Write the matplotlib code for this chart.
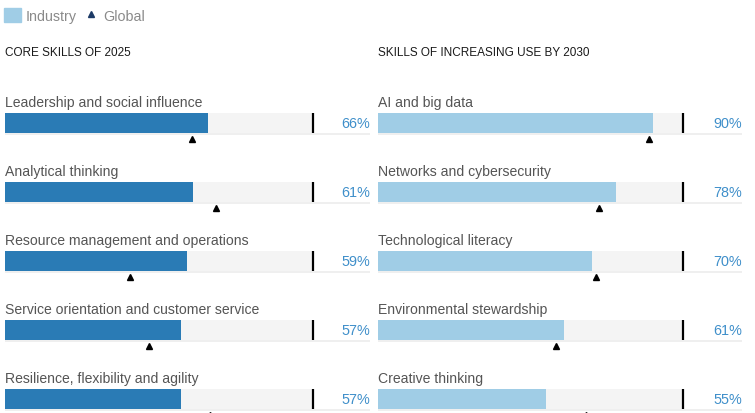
import matplotlib.pyplot as plt
from matplotlib.patches import Patch
from matplotlib.lines import Line2D

# datos
core_skills = ['Leadership and social influence', 'Analytical thinking',
               'Resource management and operations',
               'Service orientation and customer service',
               'Resilience, flexibility and agility']
core_industry = [66, 61, 59, 57, 57]
core_global = [60.7, 68.5, 40.6, 46.8, 66.5]

growth_skills = ['AI and big data', 'Networks and cybersecurity',
                 'Technological literacy', 'Environmental stewardship',
                 'Creative thinking']
growth_industry = [90, 78, 70, 61, 55]
growth_global = [88.7, 72.4, 71.4, 58.3, 68.1]

plt.rcParams['font.family'] = ['Liberation Sans', 'DejaVu Sans']

fig = plt.figure(figsize=(7.55, 4.14), dpi=100)
W, H = 755, 414


def panel(left_px, width_px, xmax, skills, industry, glob, color, title):
    ax = fig.add_axes([left_px / W, 0, width_px / W, (H - 80) / H])
    ax.set_xlim(0, xmax)
    ax.set_ylim((H - 124) / 69, -(124 - 80) / 69)
    ax.axis('off')
    ys = list(range(len(skills)))
    # linea inferior clara
    ax.barh([y + 0.16 for y in ys], [xmax] * len(ys), height=0.03,
            color='#efefef', clip_on=False)
    # fondo gris hasta 100%
    ax.barh(ys, [100] * len(ys), height=0.29, color='#f4f4f4')
    ax.barh(ys, industry, height=0.29, color=color)
    ax.vlines([100] * len(ys), [y - 0.145 for y in ys], [y + 0.145 for y in ys],
              color='black', lw=1.6)
    ax.plot(glob, [y + 0.232 for y in ys], '^', color='black', ms=5,
            clip_on=False)
    for y, s, v in zip(ys, skills, industry):
        ax.text(0, y - 0.30, s, ha='left', va='center', fontsize=10.1,
                color='#555555')
        ax.text(xmax, y, f'{v}%', ha='right', va='center', fontsize=10.4,
                color='#3f8fca')
    fig.text(left_px / W, 1 - 53 / H, title, ha='left', va='center',
             fontsize=8.5, color='#1a1a1a')
    return ax


panel(5, 365, 118.5, core_skills, core_industry, core_global, '#2a7bb5',
      'CORE SKILLS OF 2025')
panel(378, 364, 119.2, growth_skills, growth_industry, growth_global,
      '#a0cde6', 'SKILLS OF INCREASING USE BY 2030')

handles = [Patch(color='#a0cde6', label='Industry'),
           Line2D([], [], marker='^', color='#1c3a66', ls='none', ms=4.5,
                  label='Global')]
leg = fig.legend(handles=handles, loc='upper left', ncol=2, frameon=False,
                 bbox_to_anchor=(4 / W, 1 - 9 / H), borderpad=0,
                 borderaxespad=0, handlelength=1.2, handleheight=1.15,
                 handletextpad=0.3, columnspacing=0.4, fontsize=10.3)
for t in leg.get_texts():
    t.set_color('#8a8a8a')

fig.savefig('out.png', dpi=100)
